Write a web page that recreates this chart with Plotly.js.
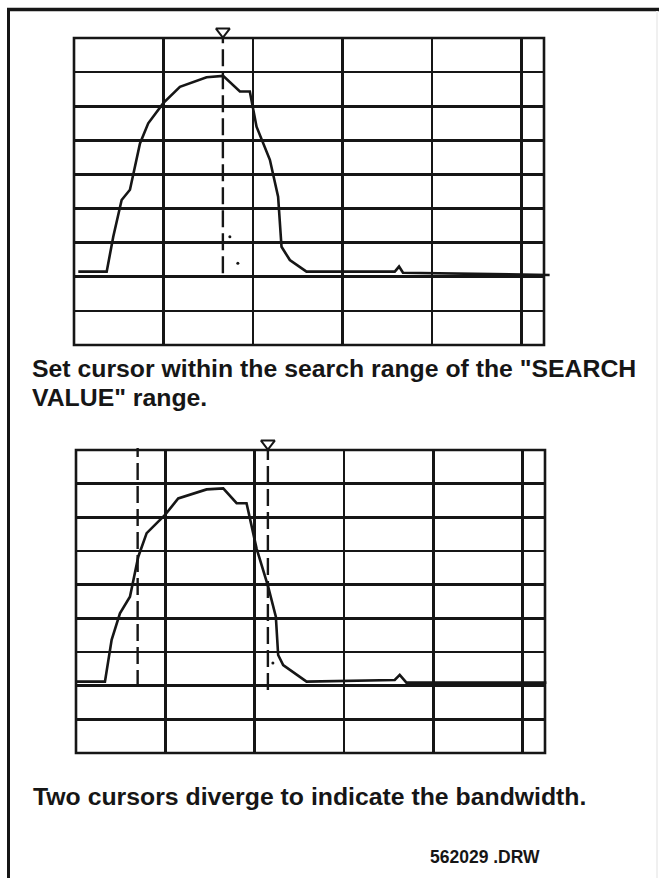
<!DOCTYPE html>
<html>
<head>
<meta charset="utf-8">
<script src="https://cdn.plot.ly/plotly-3.0.1.min.js"></script>
<style>
html,body{margin:0;padding:0;background:#fff;}
#chart{width:659px;height:878px;}
</style>
</head>
<body>
<div id="chart"></div>
<script>
// ---- Data (grid divisions) ----
const topTraceX = [0.048,0.365,0.439,0.532,0.625,0.737,0.829,0.997,1.183,1.481,1.666,1.853,1.964,2.039,2.188,2.280,2.318,2.411,2.597,3.583,3.631,3.675,5.313];
const topTraceY = [2.15,2.15,3.18,4.25,4.55,5.91,6.50,7.09,7.57,7.85,7.89,7.43,7.43,6.40,5.43,4.35,2.88,2.49,2.15,2.15,2.30,2.12,2.05];

const bottomTraceX = [0.008,0.324,0.399,0.492,0.604,0.697,0.791,0.996,1.144,1.462,1.648,1.798,1.909,2.021,2.151,2.237,2.263,2.319,2.581,3.568,3.624,3.699,5.265];
const bottomTraceY = [2.12,2.12,3.36,4.15,4.64,5.83,6.53,7.07,7.56,7.83,7.86,7.42,7.42,6.08,4.94,4.05,2.91,2.61,2.12,2.17,2.32,2.09,2.09];

const topCursorX = [1.663];
const topCursorLow = [2.1];
const topMarkerX = [1.663];

const bottomCursorX = [0.69, 2.148];
const bottomCursorLow = [1.96, 1.87];
const bottomMarkerX = [2.148];

const markerY = 9.19;
const cursorHigh = 9.06;
const topSpeckX = [1.741, 1.830];
const topSpeckY = [3.17, 2.40];
const bottomSpeckX = [2.204];
const bottomSpeckY = [2.67];

const captionTop1 = 'Set cursor within the search range of the "SEARCH';
const captionTop2 = 'VALUE" range.';
const captionBottom = 'Two cursors diverge to indicate the bandwidth.';
const drawingId = '562029 .DRW';

// ---- Build ----
const ink = '#161616';
const W = 659, H = 878;
const traces = [];

// panels: grid box in px; overlay axes extend the same scale a bit beyond the box
const panels = [
  {gx: 'x', gy: 'y', ox: 'x3', oy: 'y3', left: 74, right: 544, top: 38, bottom: 345,
   tx: topTraceX, ty: topTraceY, cx: topCursorX, clow: topCursorLow, mx: topMarkerX, sx: topSpeckX, sy: topSpeckY},
  {gx: 'x2', gy: 'y2', ox: 'x4', oy: 'y4', left: 76, right: 545, top: 450, bottom: 753,
   tx: bottomTraceX, ty: bottomTraceY, cx: bottomCursorX, clow: bottomCursorLow, mx: bottomMarkerX, sx: bottomSpeckX, sy: bottomSpeckY}
];
const XDIV = 5.25, YDIV = 9, EXT_R = 8, EXT_T = 22;

const layout = {
  width: W, height: H, margin: {l: 0, r: 0, t: 0, b: 0},
  paper_bgcolor: '#fff', plot_bgcolor: 'rgba(0,0,0,0)', showlegend: false,
  shapes: [], annotations: []
};

panels.forEach(p => {
  const xpx = (p.right - p.left) / XDIV, ypx = (p.bottom - p.top) / YDIV;
  const gridAx = {showgrid: true, gridcolor: ink, gridwidth: 2.6, showline: false, zeroline: false,
    showticklabels: false, ticks: '', fixedrange: true, tick0: 0, dtick: 1};
  layout[p.gx.replace('x', 'xaxis')] = Object.assign({}, gridAx, {domain: [p.left / W, p.right / W], range: [0, XDIV], anchor: p.gy});
  layout[p.gy.replace('y', 'yaxis')] = Object.assign({}, gridAx, {domain: [1 - p.bottom / H, 1 - p.top / H], range: [0, YDIV], anchor: p.gx});
  const hidden = {visible: false, fixedrange: true, showgrid: false, zeroline: false};
  layout[p.ox.replace('x', 'xaxis')] = Object.assign({}, hidden, {domain: [p.left / W, (p.right + EXT_R) / W], range: [0, XDIV + EXT_R / xpx], anchor: p.oy});
  layout[p.oy.replace('y', 'yaxis')] = Object.assign({}, hidden, {domain: [1 - p.bottom / H, 1 - (p.top - EXT_T) / H], range: [0, YDIV + EXT_T / ypx], anchor: p.ox});
  // grid box
  layout.shapes.push({type: 'rect', xref: p.gx + ' domain', yref: p.gy + ' domain', x0: 0, x1: 1, y0: 0, y1: 1,
    line: {color: ink, width: 2.6}, fillcolor: 'rgba(0,0,0,0)'});

  traces.push({x: p.sx, y: p.sy, xaxis: p.gx, yaxis: p.gy, mode: 'markers', type: 'scatter',
    marker: {symbol: 'circle', size: 3, color: ink}, hoverinfo: 'skip'});
  traces.push({x: p.tx, y: p.ty, xaxis: p.ox, yaxis: p.oy, mode: 'lines', type: 'scatter',
    line: {color: ink, width: 2.6}, hoverinfo: 'skip'});
  p.cx.forEach((c, i) => {
    traces.push({x: [c, c], y: [p.clow[i], cursorHigh], xaxis: p.ox, yaxis: p.oy, mode: 'lines', type: 'scatter',
      line: {color: ink, width: 2.4, dash: '17px,6px'}, hoverinfo: 'skip'});
  });
  traces.push({x: p.mx, y: p.mx.map(() => markerY), xaxis: p.ox, yaxis: p.oy, mode: 'markers', type: 'scatter',
    marker: {symbol: 'triangle-down-open', size: 12, color: ink, line: {color: ink, width: 2}}, hoverinfo: 'skip'});
});

const font = {family: 'Liberation Sans, Arial, sans-serif', color: ink, size: 24.8, weight: 'bold'};
function ann(text, x, y, size) {
  return {text: text, xref: 'paper', yref: 'paper', x: x / W, y: 1 - y / H, xanchor: 'left', yanchor: 'middle',
    showarrow: false, font: Object.assign({}, font, size ? {size: size} : {})};
}
layout.annotations = [
  ann(captionTop1, 30, 368.5),
  ann(captionTop2, 30, 397.5),
  ann(captionBottom, 31, 796.5),
  ann(drawingId, 428, 856.5, 17.5)
];
layout.shapes.push(
  {type: 'line', xref: 'paper', yref: 'paper', x0: 8.5 / W, x1: 8.5 / W, y0: 0, y1: 1 - 8 / H, line: {color: ink, width: 3}},
  {type: 'line', xref: 'paper', yref: 'paper', x0: 7 / W, x1: 1, y0: 1 - 9.5 / H, y1: 1 - 9.5 / H, line: {color: ink, width: 3.5}},
  {type: 'line', xref: 'paper', yref: 'paper', x0: 657 / W, x1: 657 / W, y0: 0, y1: 1 - 11 / H, line: {color: '#f0f0f0', width: 2}}
);

Plotly.newPlot('chart', traces, layout, {staticPlot: true, displayModeBar: false});
</script>
</body>
</html>
